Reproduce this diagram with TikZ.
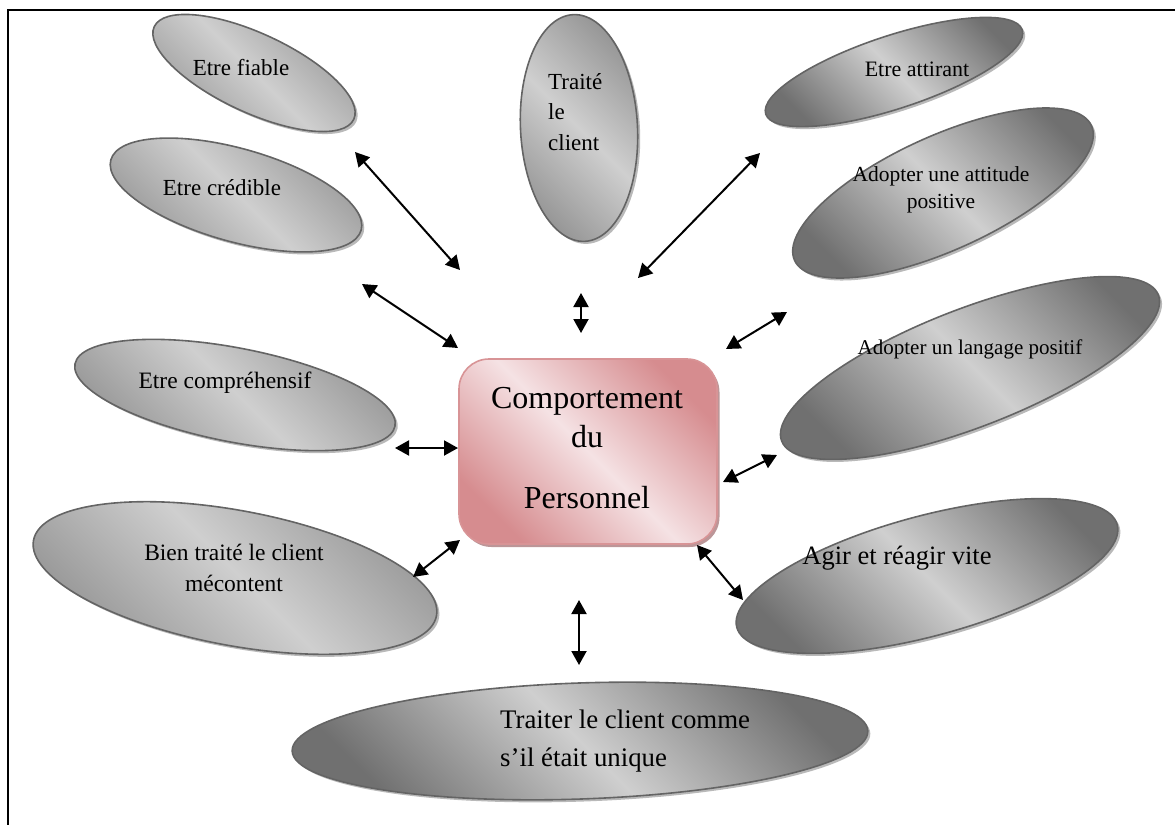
\documentclass[tikz,border=0pt]{standalone}
\usepackage{fontspec}
\setmainfont{Liberation Serif}
\usetikzlibrary{arrows.meta,shadows,shapes.geometric}
\definecolor{pinkdark}{RGB}{214,140,143}
\definecolor{pinklight}{RGB}{245,226,228}
\definecolor{pinkborder}{RGB}{216,148,150}
\definecolor{pinkshadow}{RGB}{188,150,152}
\definecolor{ellborder}{RGB}{100,100,100}
\definecolor{ellshadow}{RGB}{185,185,185}
\definecolor{gdark}{RGB}{150,150,150}
\definecolor{gdarker}{RGB}{112,112,112}
\definecolor{glight}{RGB}{207,207,207}
\begin{document}
\begin{tikzpicture}[x=1pt,y=-1pt,
  bubble/.style={ellipse, draw=ellborder, line width=1.6pt, inner sep=0pt,
     top color=gdark, bottom color=gdark, middle color=glight, shading angle=-45,
     drop shadow={shadow xshift=2.5pt, shadow yshift=-2.5pt, fill=ellshadow, opacity=1}},
  darkbubble/.style={bubble, top color=gdarker, bottom color=gdarker, middle color=glight, shading angle=-45},
  lbl/.style={inner sep=0pt, align=center, font=\fontsize{23}{30}\selectfont},
  link/.style={{Triangle[length=14pt,width=15pt]}-{Triangle[length=14pt,width=15pt]}, line width=2pt}
]
\useasboundingbox (0,0) rectangle (1175,825);
\draw[line width=2pt] (1175,10) -- (8,10) -- (8,825);

% ellipses
\node[bubble, rotate=-24.9, minimum width=220pt, minimum height=79pt] (fiable) at (254,73) {};
\node[bubble, rotate=-15.7, minimum width=260pt, minimum height=93pt] (credible) at (236,195) {};
\node[bubble, rotate=3, minimum width=117pt, minimum height=227pt] (traite) at (579,128) {};
\node[darkbubble, rotate=18.2, minimum width=270pt, minimum height=73pt] (attirant) at (894,72) {};
\node[darkbubble, rotate=24.4, minimum width=326pt, minimum height=114pt] (attitude) at (943,193) {};
\node[darkbubble, rotate=21.2, minimum width=404pt, minimum height=118pt] (langage) at (970,368) {};
\node[darkbubble, rotate=15.1, minimum width=394pt, minimum height=120pt] (agir) at (927,576) {};
\node[bubble, rotate=-11, minimum width=326pt, minimum height=94pt] (compr) at (235,395) {};
\node[bubble, rotate=-10.6, minimum width=410pt, minimum height=135pt] (bien) at (235,578) {};
\node[darkbubble, rotate=2, minimum width=576pt, minimum height=116pt] (unique) at (580,741) {};

% central box
\node[draw=pinkborder, line width=1.6pt, rounded corners=30pt,
      minimum width=258pt, minimum height=185pt,
      top color=pinkdark, bottom color=pinkdark, middle color=pinklight, shading angle=-45,
      drop shadow={shadow xshift=2.5pt, shadow yshift=-3pt, fill=pinkshadow, opacity=1}]
      (box) at (588,451.5) {};

% labels
\node[lbl] (fiableT) at (241,68) {Etre fiable};
\node[lbl] (credibleT) at (222,188) {Etre crédible};
\node[lbl, align=left, anchor=west, font=\fontsize{23}{30.5}\selectfont] (traiteT) at (548,112) {Traité\\le\\client};
\node[lbl, font=\fontsize{22}{27}\selectfont] (attirantT) at (917,69) {Etre attirant};
\node[lbl, font=\fontsize{21.5}{27}\selectfont] (attitudeT) at (941,190) {Adopter une attitude\\positive};
\node[lbl, font=\fontsize{21}{27}\selectfont] (langageT) at (970,349) {Adopter un langage positif};
\node[lbl, font=\fontsize{26.5}{32}\selectfont] (agirT) at (897,558) {Agir et réagir vite};
\node[lbl, font=\fontsize{23.5}{30}\selectfont] (comprT) at (225,383) {Etre compréhensif};
\node[lbl, font=\fontsize{23.5}{31}\selectfont] (bienT) at (234,568) {Bien traité le client\\mécontent};
\node[lbl, align=left, anchor=west, font=\fontsize{26.8}{38}\selectfont] (uniqueT) at (500,741) {Traiter le client comme\\s’il était unique};
\node[lbl, font=\fontsize{32}{39}\selectfont] (boxT) at (587,448) {Comportement\\du\\[22pt]Personnel};

% connectors
\coordinate (f1) at (355,152); \coordinate (f2) at (460,270);
\coordinate (c1) at (362,284); \coordinate (c2) at (458,348);
\coordinate (t1) at (581,293); \coordinate (t2) at (581,333);
\coordinate (a1) at (760,153); \coordinate (a2) at (638,278);
\coordinate (u1) at (787,312); \coordinate (u2) at (726,349);
\coordinate (l1) at (777,455); \coordinate (l2) at (723,482);
\coordinate (g1) at (697,545); \coordinate (g2) at (743,600);
\coordinate (p1) at (395,448); \coordinate (p2) at (458,448);
\coordinate (b1) at (413,577); \coordinate (b2) at (460,540);
\coordinate (q1) at (579,600); \coordinate (q2) at (579,665);
\draw[link] (f1) -- (f2);
\draw[link] (c1) -- (c2);
\draw[link] (t1) -- (t2);
\draw[link] (a1) -- (a2);
\draw[link] (u1) -- (u2);
\draw[link] (l1) -- (l2);
\draw[link] (g1) -- (g2);
\draw[link] (p1) -- (p2);
\draw[link] (b1) -- (b2);
\draw[link] (q1) -- (q2);
\end{tikzpicture}
\end{document}
